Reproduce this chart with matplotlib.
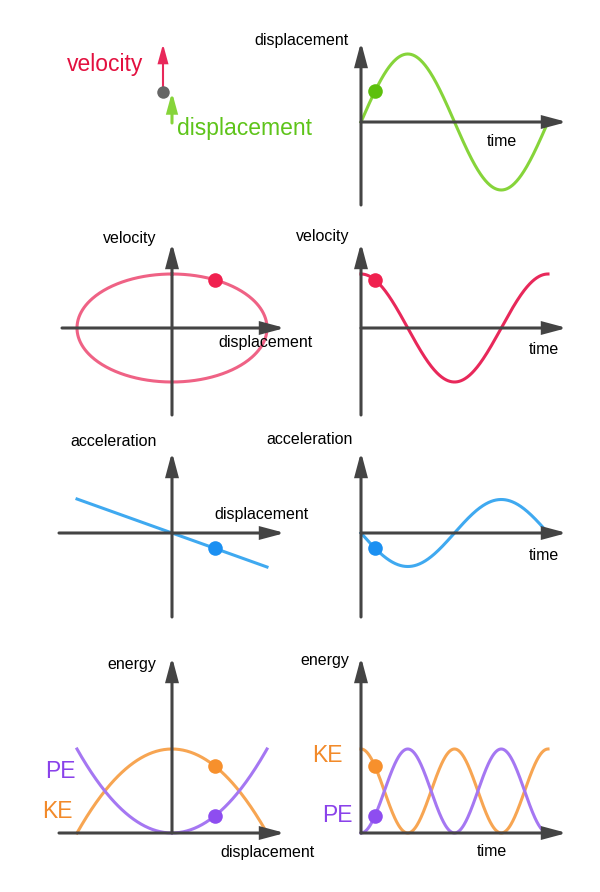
import numpy as np
import matplotlib.pyplot as plt
import matplotlib.transforms as mtransforms

plt.rcParams['font.family'] = ['Liberation Sans', 'DejaVu Sans']

# snapshot of the oscillator (fraction of a period) and the quantities at that moment
t_now = 0.075
disp_now = np.sin(2 * np.pi * t_now)
vel_now = np.cos(2 * np.pi * t_now)
acc_now = -disp_now
ke_now = vel_now ** 2
pe_now = disp_now ** 2

# one period of motion
t = np.linspace(0, 1, 400)
disp_t = np.sin(2 * np.pi * t)
vel_t = np.cos(2 * np.pi * t)
acc_t = -np.sin(2 * np.pi * t)
ke_t = np.cos(2 * np.pi * t) ** 2
pe_t = np.sin(2 * np.pi * t) ** 2
# over the displacement range
x = np.linspace(-1, 1, 200)
acc_x = -x
ke_x = 1 - x ** 2
pe_x = x ** 2

W, H = 600, 892
fig = plt.figure(figsize=(6, 8.92), dpi=100)
ax = fig.add_axes([0, 0, 1, 1])
ax.set_xlim(0, W)
ax.set_ylim(H, 0)
ax.axis('off')

AXC = '#444444'
GREEN, GREEN_DOT = '#86d43a', '#5dc00c'
RED, RED_SOFT, RED_DOT = '#e8285a', '#ef6285', '#f0214f'
BLUE, BLUE_DOT = '#3fa9f0', '#1b90f2'
ORANGE, ORANGE_DOT = '#f7a552', '#f7902c'
PURPLE, PURPLE_DOT = '#a577f2', '#8e4df0'


def frame(ox, oy, sx, sy):
    # data coords -> pixel coords for one little panel
    return mtransforms.Affine2D().scale(sx, -sy).translate(ox, oy) + ax.transData


def arrow(x0, y0, x1, y1, color=AXC, lw=2.2, hl=1.35, hw=0.36):
    ax.annotate('', xy=(x1, y1), xytext=(x0, y0),
                arrowprops=dict(arrowstyle=f'-|>,head_length={hl},head_width={hw}',
                                color=color, lw=lw, shrinkA=0, shrinkB=0,
                                mutation_scale=10, joinstyle='miter'), zorder=3)


def label(px, py, s, ha='center', size=11.5, color='black'):
    ax.text(px, py, s, ha=ha, va='center', fontsize=size, color=color, zorder=5)


def dot(tr, xv, yv, color):
    ax.plot([xv], [yv], 'o', ms=10.5, color=color, mec='none', transform=tr, zorder=4)


LW = 2.2

# panel 1: the mass with its velocity and displacement arrows
cx, rest_y = 163, 123
dot_y = rest_y - 68 * disp_now
arrow(cx, dot_y, cx, dot_y - 54 * vel_now, color=RED, lw=1.5, hl=1.1, hw=0.3)
arrow(cx + 9, rest_y, cx + 9, dot_y, color=GREEN, lw=2.2, hl=1.1, hw=0.3)
ax.plot([cx], [dot_y], 'o', ms=9, color='#666666', mec='none', zorder=4)
label(143, 64, 'velocity', ha='right', size=16.5, color='#e3103f')
label(177, 129, 'displacement', ha='left', size=16.5, color='#5ec41a')

# panel 2: displacement vs time
tr = frame(361, 122, 187, 68)
ax.plot(t, disp_t, color=GREEN, lw=LW, transform=tr, zorder=2)
arrow(361, 122, 567, 122)
arrow(361, 205, 361, 42)
dot(tr, t_now, disp_now, GREEN_DOT)
label(349, 40, 'displacement', ha='right')
label(502, 141, 'time')

# panel 3: velocity vs displacement
tr = frame(172, 328, 95, 54)
ph = np.linspace(0, 2 * np.pi, 400)
ax.plot(np.sin(ph), np.cos(ph), color=RED_SOFT, lw=LW, transform=tr, zorder=2)
arrow(62, 328, 285, 328)
arrow(172, 415, 172, 243)
dot(tr, disp_now, vel_now, RED_DOT)
label(130, 239, 'velocity')
label(218, 342, 'displacement', ha='left')

# panel 4: velocity vs time
tr = frame(361, 328, 187, 54)
ax.plot(t, vel_t, color=RED, lw=LW, transform=tr, zorder=2)
arrow(361, 328, 567, 328)
arrow(361, 415, 361, 243)
dot(tr, t_now, vel_now, RED_DOT)
label(349, 237, 'velocity', ha='right')
label(544, 349, 'time')

# panel 5: acceleration vs displacement
tr = frame(172, 533, 95, 34)
ax.plot(x, acc_x, color=BLUE, lw=LW, transform=tr, zorder=2)
arrow(59, 533, 285, 533)
arrow(172, 617, 172, 452)
dot(tr, disp_now, acc_now, BLUE_DOT)
label(114, 442, 'acceleration')
label(214, 515, 'displacement', ha='left')

# panel 6: acceleration vs time
tr = frame(361, 533, 187, 33.5)
ax.plot(t, acc_t, color=BLUE, lw=LW, transform=tr, zorder=2)
arrow(361, 533, 567, 533)
arrow(361, 617, 361, 452)
dot(tr, t_now, acc_now, BLUE_DOT)
label(353, 440, 'acceleration', ha='right')
label(544, 556, 'time')

# panel 7: energy vs displacement
tr = frame(172, 833, 95, 84)
ax.plot(x, ke_x, color=ORANGE, lw=LW, transform=tr, zorder=2)
ax.plot(x, pe_x, color=PURPLE, lw=LW, transform=tr, zorder=2)
arrow(59, 833, 285, 833)
arrow(172, 833, 172, 657)
dot(tr, disp_now, ke_now, ORANGE_DOT)
dot(tr, disp_now, pe_now, PURPLE_DOT)
label(132, 664, 'energy')
label(220, 852, 'displacement', ha='left')
label(60, 772, 'PE', size=16.5, color='#8a42ea')
label(57, 811, 'KE', size=16.5, color='#f28a2a')

# panel 8: energy vs time
tr = frame(361, 833, 187, 84)
ax.plot(t, ke_t, color=ORANGE, lw=LW, transform=tr, zorder=2)
ax.plot(t, pe_t, color=PURPLE, lw=LW, transform=tr, zorder=2)
arrow(361, 833, 567, 833)
arrow(361, 833, 361, 657)
dot(tr, t_now, ke_now, ORANGE_DOT)
dot(tr, t_now, pe_now, PURPLE_DOT)
label(349, 661, 'energy', ha='right')
label(492, 852, 'time')
label(327, 755, 'KE', size=16.5, color='#f28a2a')
label(337, 816, 'PE', size=16.5, color='#8a42ea')

ax.set_xlim(0, W)
ax.set_ylim(H, 0)
fig.savefig('out.png', dpi=100, facecolor='white')
